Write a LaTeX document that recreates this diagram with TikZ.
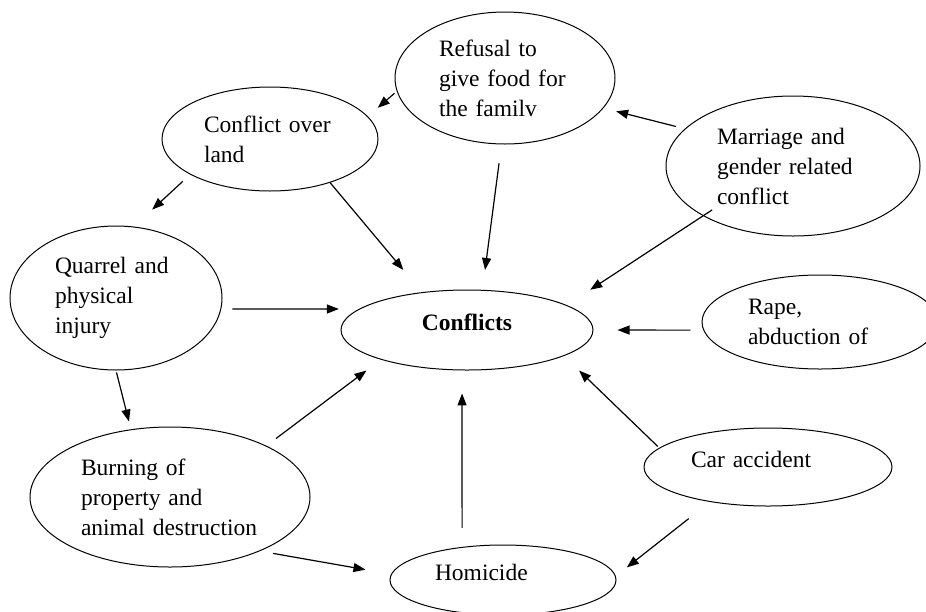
\documentclass[tikz,border=0pt]{standalone}
\usepackage{fontspec}
\setmainfont{Liberation Serif}
\usetikzlibrary{shapes.geometric,arrows.meta}

\begin{document}
\begin{tikzpicture}[x=1pt,y=-1pt,
		oval/.style={draw, ellipse, line width=1pt, inner sep=0pt, align=left, font=\fontsize{23.5}{30}\selectfont},
		link/.style={-{Triangle[length=12pt,width=9pt]}, line width=1.2pt}]
				\useasboundingbox (0,0) rectangle (926,611);
				\node[oval, minimum width=220pt, minimum height=132pt, text width=132pt] (refusal) at (505,78) {Refusal to\\give food for\\the familv};
				\node[oval, minimum width=216pt, minimum height=104pt, text width=132pt] (land) at (270,139) {Conflict over\\land};
				\node[oval, minimum width=212pt, minimum height=144pt, text width=122pt] (quarrel) at (116,298) {Quarrel and\\physical\\injury};
				\node[oval, minimum width=254pt, minimum height=140pt, text width=152pt] (marriage) at (793,166) {Marriage and\\gender related\\conflict};
				\node[oval, minimum width=252pt, minimum height=80pt, align=center, text depth=16pt, font=\fontsize{23.5}{30}\selectfont\bfseries] (conflicts) at (467,330) {Conflicts};
				\node[oval, minimum width=236pt, minimum height=94pt, text width=144pt] (rape) at (820,322) {Rape,\\abduction of};
				\node[oval, minimum width=248pt, minimum height=78pt, text width=154pt, text depth=16pt] (car) at (768,467) {Car accident};
				\node[oval, minimum width=280pt, minimum height=140pt, text width=178pt] (burning) at (170,497) {Burning of\\property and\\animal destruction};
				\node[oval, minimum width=226pt, minimum height=70pt, text width=136pt, text depth=15pt] (homicide) at (503,580) {Homicide};
				\draw[link, shorten <=3pt, shorten >=13pt] (refusal.187) -- (land.13);
				\draw[link, shorten <=10pt, shorten >=25pt] (land.204) -- (quarrel.76);
				\draw[link, shorten >=29pt] (land.-36) -- (conflicts.140);
				\draw[link, shorten <=19pt, shorten >=20pt] (refusal.267) -- (conflicts.69);
				\draw[link, shorten <=9pt, shorten >=13pt] (marriage.161) -- (refusal.-17);
				\draw[link, shorten <=-11pt, shorten >=28pt] (marriage.209) -- (conflicts.14);
				\draw[link, shorten <=11pt, shorten >=20pt] (quarrel.-6) -- (conflicts.169);
				\draw[link, shorten <=13pt, shorten >=24pt] (rape.184) -- (conflicts.0);
				\draw[link, shorten <=2pt, shorten >=8pt] (quarrel.270) -- (burning.120);
				\draw[link, shorten <=12pt, shorten >=18pt] (burning.28.5) -- (conflicts.199);
				\draw[link, shorten <=19pt, shorten >=23pt] (homicide.141.5) -- (conflicts.263);
				\draw[link, shorten <=2pt, shorten >=21pt] (car.170) -- (conflicts.-15);
				\draw[link, shorten <=27pt, shorten >=14pt] (car.211) -- (homicide.2);
				\draw[link, shorten <=13pt, shorten >=26pt] (burning.-31) -- (homicide.177);
			\end{tikzpicture}
\end{document}
